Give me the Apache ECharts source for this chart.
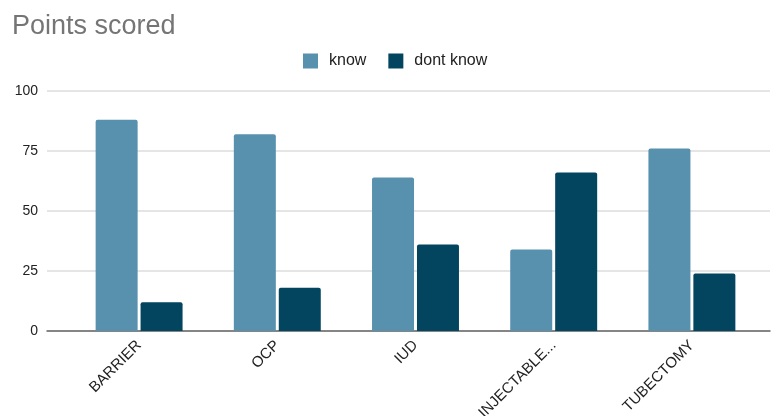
<!DOCTYPE html>
<html>
<head>
<meta charset="utf-8">
<script src="https://cdn.jsdelivr.net/npm/echarts@6/dist/echarts.min.js"></script>
<style>
	html, body { margin: 0; padding: 0; background: #fff; }
	#chart { width: 771px; height: 416px; }
</style>
</head>
<body>
<div id="chart"></div>
<script>
/** 数据 */
let categories = ["BARRIER", "OCP", "IUD", "INJECTABLE...", "TUBECTOMY"];
let know_values = [88, 82, 64, 34, 76];
let dont_know_values = [12, 18, 36, 66, 24];
let y_ticks = [0, 25, 50, 75, 100];

let font = "Liberation Sans, Arial, sans-serif";
let points_chart = echarts.init(document.getElementById("chart"));
let points_option = {
	animation: false,
	title: {
		text: "Points scored",
		left: 7,
		top: 8,
		textStyle: {
			color: "#757575",
			fontSize: 27,
			fontWeight: "normal",
			fontFamily: font,
		},
	},
	legend: {
		data: ["know", "dont know"],
		top: 48,
		left: 298,
		itemWidth: 15,
		itemHeight: 15,
		itemGap: 22,
		icon: "rect",
		textStyle: {
			fontSize: 16,
			color: "#222",
			fontFamily: font,
			padding: [0, 0, 0, 6],
		},
	},
	// 0: 网格线背景（比柱子区域宽） 1: 柱子区域
	grid: [
		{ left: 47, right: 1, top: 91, bottom: 85, outerBoundsMode: "none" },
		{ left: 70, right: 10, top: 91, bottom: 85, outerBoundsMode: "none" },
	],
	xAxis: [
		{
			type: "value",
			gridIndex: 0,
			min: 0,
			max: 1,
			axisLine: { show: true, lineStyle: { color: "#666", width: 1.5 } },
			axisTick: { show: false },
			axisLabel: { show: false },
			splitLine: { show: false },
		},
		{
			type: "category",
			gridIndex: 1,
			data: categories,
			axisLine: { show: false },
			axisTick: { show: false },
			axisLabel: {
				rotate: 45,
				interval: 0,
				margin: 12,
				fontSize: 15,
				color: "#222",
				fontFamily: font,
			},
		},
	],
	yAxis: [
		{
			type: "value",
			gridIndex: 0,
			min: y_ticks[0],
			max: y_ticks[y_ticks.length - 1],
			interval: 25,
			axisLine: { show: false },
			axisTick: { show: false },
			splitLine: { lineStyle: { color: "#dcdcdc", width: 1.5 } },
			axisLabel: {
				margin: 9,
				fontSize: 14,
				color: "#222",
				fontFamily: font,
			},
		},
		{
			type: "value",
			gridIndex: 1,
			min: y_ticks[0],
			max: y_ticks[y_ticks.length - 1],
			interval: 25,
			show: false,
		},
	],
	series: [
		{
			name: "know",
			type: "bar",
			xAxisIndex: 1,
			yAxisIndex: 1,
			data: know_values,
			barWidth: 42,
			barGap: "7%",
			itemStyle: {
				color: "#5891ae",
				borderRadius: [2, 2, 0, 0],
			},
		},
		{
			name: "dont know",
			type: "bar",
			xAxisIndex: 1,
			yAxisIndex: 1,
			data: dont_know_values,
			barWidth: 42,
			itemStyle: {
				color: "#03455f",
				borderRadius: [2, 2, 0, 0],
			},
		},
	],
};
points_chart.setOption(points_option);
</script>
</body>
</html>
